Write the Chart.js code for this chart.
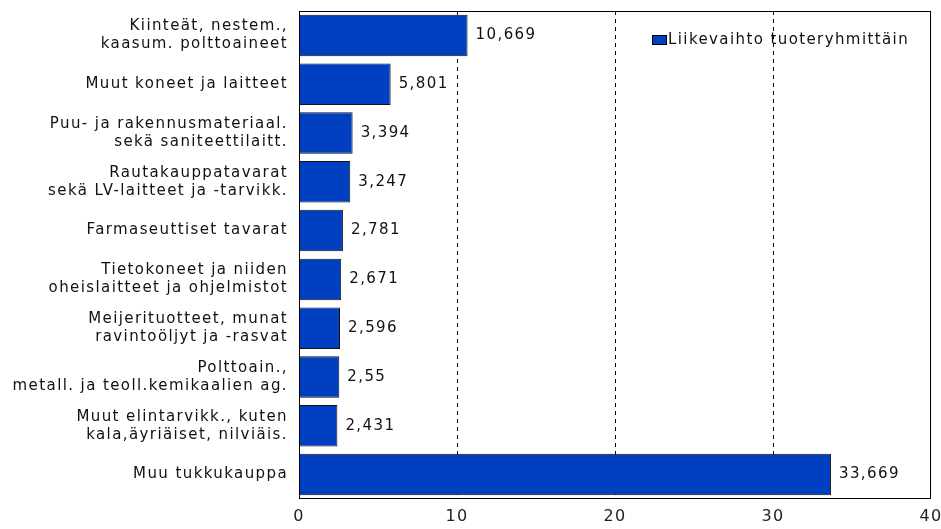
<!DOCTYPE html>
<html>
<head>
<meta charset="utf-8">
<script src="https://cdn.jsdelivr.net/npm/chart.js@4"></script>
<style>
  body { margin: 0; background: #fff; }
  #wrap { width: 941px; height: 529px; }
</style>
</head>
<body>
<div id="wrap"><canvas id="chart"></canvas></div>
<script>
const categories = [
  ['Kiinteät, nestem.,', 'kaasum. polttoaineet'],
  'Muut koneet ja laitteet',
  ['Puu- ja rakennusmateriaal.', 'sekä saniteettilaitt.'],
  ['Rautakauppatavarat', 'sekä LV-laitteet ja -tarvikk.'],
  'Farmaseuttiset tavarat',
  ['Tietokoneet ja niiden', 'oheislaitteet ja ohjelmistot'],
  ['Meijerituotteet, munat', 'ravintoöljyt ja -rasvat'],
  ['Polttoain.,', 'metall. ja teoll.kemikaalien ag.'],
  ['Muut elintarvikk., kuten', 'kala,äyriäiset, nilviäis.'],
  'Muu tukkukauppa'
];
const values = [10.669, 5.801, 3.394, 3.247, 2.781, 2.671, 2.596, 2.55, 2.431, 33.669];
const seriesName = 'Liikevaihto tuoteryhmittäin';
const xTicks = [0, 10, 20, 30, 40];

const FONT = 'DejaVu Sans';
const SPACING = '1.4px';

// wider letter spacing, like the old bitmap font in the original
const spacing = {
  id: 'spacing',
  beforeLayout(chart) { chart.ctx.letterSpacing = SPACING; },
  beforeDraw(chart) { chart.ctx.letterSpacing = SPACING; }
};

// value labels next to bars, finnish decimal comma
const valueLabels = {
  id: 'valueLabels',
  afterDatasetsDraw(chart) {
    const ctx = chart.ctx;
    const meta = chart.getDatasetMeta(0);
    ctx.save();
    ctx.font = '15px "' + FONT + '"';
    ctx.fillStyle = '#111';
    ctx.textBaseline = 'middle';
    meta.data.forEach((bar, i) => {
      const txt = String(values[i]).replace('.', ',');
      ctx.fillText(txt, bar.x + 8, bar.y);
    });
    ctx.restore();
  }
};

// legend drawn inside the plot area, top right
const innerLegend = {
  id: 'innerLegend',
  afterDraw(chart) {
    const ctx = chart.ctx;
    const a = chart.chartArea;
    const x = a.left + 353, y = a.top + 29;
    ctx.save();
    ctx.fillStyle = '#0040c0';
    ctx.fillRect(x, y - 4, 14, 9);
    ctx.strokeStyle = '#000';
    ctx.lineWidth = 1;
    ctx.strokeRect(x + 0.5, y - 4.5, 14, 9);
    ctx.font = '15px "' + FONT + '"';
    ctx.fillStyle = '#111';
    ctx.textBaseline = 'middle';
    ctx.fillText(seriesName, x + 16, y);
    ctx.restore();
  }
};

// frame round the plot area
const frame = {
  id: 'frame',
  afterDatasetsDraw(chart) {
    const a = chart.chartArea;
    const ctx = chart.ctx;
    ctx.save();
    ctx.strokeStyle = '#000';
    ctx.lineWidth = 1;
    ctx.strokeRect(a.left + 0.5, a.top + 0.5, a.width - 1, a.height - 1);
    ctx.restore();
  }
};

new Chart(document.getElementById('chart'), {
  type: 'bar',
  data: {
    labels: categories,
    datasets: [{
      label: seriesName,
      data: values,
      backgroundColor: '#0040c0',
      borderColor: '#111',
      borderWidth: 1,
      categoryPercentage: 0.85,
      barPercentage: 1
    }]
  },
  options: {
    indexAxis: 'y',
    responsive: true,
    maintainAspectRatio: false,
    animation: false,
    layout: { padding: { top: 11, right: 10, left: 0, bottom: 0 } },
    plugins: {
      legend: { display: false },
      tooltip: { enabled: false }
    },
    scales: {
      x: {
        min: 0,
        max: 40,
        afterBuildTicks(scale) { scale.ticks = xTicks.map(v => ({ value: v })); },
        grid: {
          color: ctx => (ctx.tick && (ctx.tick.value === 0 || ctx.tick.value === 40)) ? 'rgba(0,0,0,0)' : '#000',
          lineWidth: 1,
          drawTicks: false
        },
        border: { display: false, dash: [4, 4] },
        ticks: {
          color: '#222',
          font: { family: FONT, size: 16 },
          padding: 8
        },
        afterFit(scale) {
          scale.height = 30;
          scale.paddingLeft = 0;
          scale.paddingRight = 0;
        }
      },
      y: {
        grid: { display: false, drawTicks: false },
        border: { display: false },
        ticks: {
          color: '#111',
          font: { family: FONT, size: 15 },
          padding: 11,
          autoSkip: false
        },
        afterFit(scale) {
          scale.width = 299;
          scale.paddingTop = 0;
          scale.paddingBottom = 0;
        }
      }
    }
  },
  plugins: [spacing, frame, valueLabels, innerLegend]
});
</script>
</body>
</html>
